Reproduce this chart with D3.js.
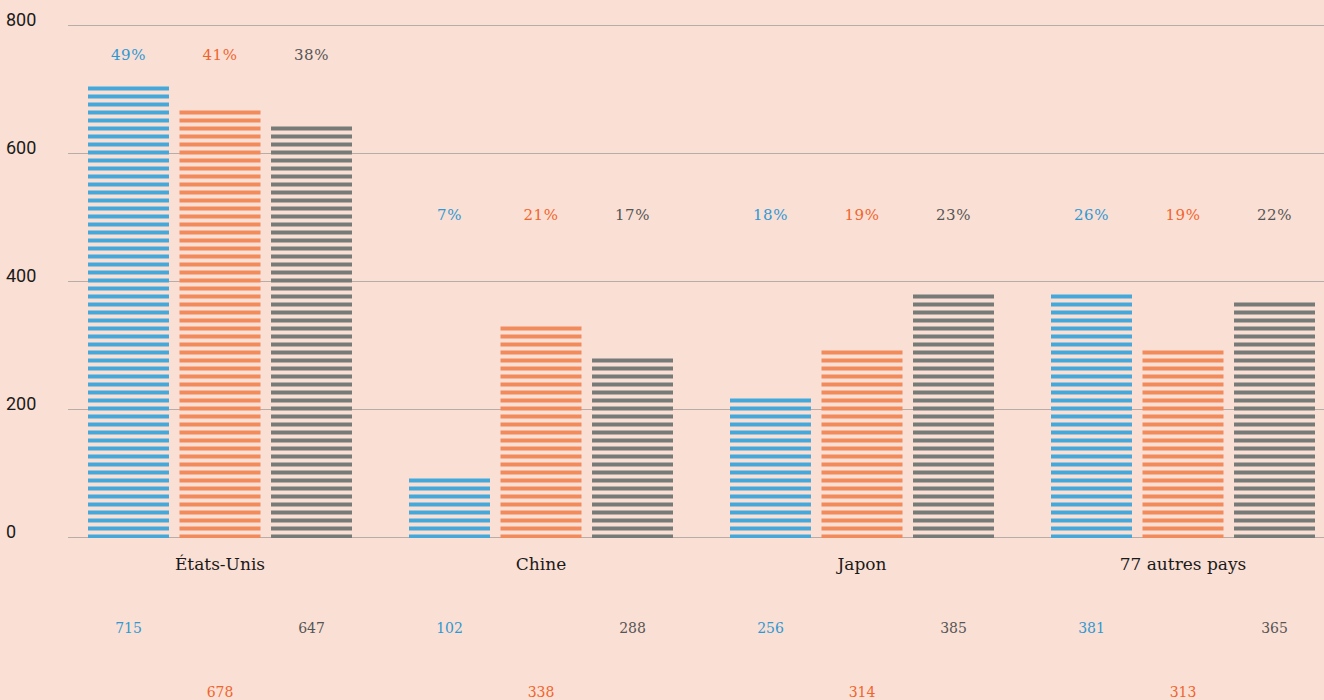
<!DOCTYPE html>
<html>
<head>
<meta charset="utf-8">
<script src="https://cdn.jsdelivr.net/npm/d3@7"></script>
<style>
  html, body { margin: 0; padding: 0; background: #fadfd4; }
  svg { display: block; }
  .grid line { stroke: #b9aca6; stroke-width: 1; shape-rendering: crispEdges; }
  .grid text { font-family: Roboto, "Liberation Sans", sans-serif; font-size: 18px; fill: #1a1a1a; }
  .cat-label { font-family: "DejaVu Serif", serif; font-size: 17px; fill: #1a1a1a; }
  .pct { font-family: "DejaVu Serif", serif; font-size: 15px; letter-spacing: 0.5px; }
  .val { font-family: "DejaVu Serif", serif; font-size: 14px; }
</style>
</head>
<body>
<div id="chart"></div>
<script>
var w = 1324
var h = 700

// data
var categories = ["États-Unis", "Chine", "Japon", "77 autres pays"]
var series = ["bleu", "orange", "gris"]

// printed figures
var valuesBleu = [715, 102, 256, 381]
var valuesOrange = [678, 338, 314, 313]
var valuesGris = [647, 288, 385, 365]

// bar heights as drawn (they don't quite follow the printed figures)
var barsBleu = [709, 96, 221, 384]
var barsOrange = [671, 334, 296, 296]
var barsGris = [646, 284, 384, 371]

var pctBleu = [49, 7, 18, 26]
var pctOrange = [41, 21, 19, 19]
var pctGris = [38, 17, 23, 22]

// height (in axis units) where the percentages sit
var pctLevel = [750, 500, 500, 500]

var yTicks = [0, 200, 400, 600, 800]

var barColor = {bleu: "#45a8da", orange: "#f28b5b", gris: "#767b77"}
var textColor = {bleu: "#2f98d3", orange: "#f0652d", gris: "#555555"}

var left_margin = 68
var top_y = 25.5
var base_y = 537.5

var rows = categories.map(function(c, i) {
  return {
    cat: c,
    index: i,
    level: pctLevel[i],
    bars: [
      {key: "bleu", bar: barsBleu[i], value: valuesBleu[i], pct: pctBleu[i]},
      {key: "orange", bar: barsOrange[i], value: valuesOrange[i], pct: pctOrange[i]},
      {key: "gris", bar: barsGris[i], value: valuesGris[i], pct: pctGris[i]}
    ]
  }
})

var y = d3.scaleLinear().domain([0, 800]).range([base_y, top_y])
var x0 = d3.scaleBand().domain(categories).range([59.5, 1343.5]).padding(0)
var x1 = d3.scaleBand().domain(series).range([28.5, 292.5]).paddingInner(0.115).paddingOuter(0)

var svg = d3.select("#chart")
  .append("svg")
  .attr("width", w)
  .attr("height", h)

// striped fills, anchored on the baseline
var defs = svg.append("defs")
series.forEach(function(s) {
  var p = defs.append("pattern")
    .attr("id", "stripes-" + s)
    .attr("patternUnits", "userSpaceOnUse")
    .attr("x", 0)
    .attr("y", Math.round(base_y) - 3.5)
    .attr("width", 8)
    .attr("height", 8)
  p.append("rect")
    .attr("x", 0)
    .attr("y", 0)
    .attr("width", 8)
    .attr("height", 4)
    .attr("fill", barColor[s])
})

// gridlines + tick labels
var grid = svg.append("g")
  .attr("class", "grid")
  .attr("transform", "translate(" + left_margin + ",0)")
  .call(d3.axisRight(y).tickValues(yTicks).tickSize(w - left_margin).offset(0).tickFormat(d3.format("d")))

grid.select(".domain").remove()
grid.selectAll("text")
  .attr("x", 6 - left_margin)
  .attr("dy", 0)
  .attr("text-anchor", "start")

var groups = svg.selectAll(".group")
  .data(rows)
  .enter().append("g")
  .attr("class", "group")
  .attr("transform", function(d) { return "translate(" + x0(d.cat) + ",0)" })

groups.selectAll("rect")
  .data(function(d) { return d.bars })
  .enter().append("rect")
  .attr("x", function(d) { return x1(d.key) })
  .attr("y", function(d) { return y(d.bar) })
  .attr("width", x1.bandwidth())
  .attr("height", function(d) { return base_y + 0.5 - y(d.bar) })
  .attr("fill", function(d) { return "url(#stripes-" + d.key + ")" })

// percentages above
groups.each(function(g) {
  d3.select(this).selectAll(".pct")
    .data(g.bars)
    .enter().append("text")
    .attr("class", "pct")
    .attr("x", function(d) { return x1(d.key) + x1.bandwidth() / 2 })
    .attr("y", y(g.level) + 2)
    .attr("text-anchor", "middle")
    .attr("fill", function(d) { return textColor[d.key] })
    .text(function(d) { return d.pct + "%" })
})

// category names
groups.append("text")
  .attr("class", "cat-label")
  .attr("x", x0.bandwidth() / 2)
  .attr("y", base_y + 32.5)
  .attr("text-anchor", "middle")
  .text(function(d) { return d.cat })

// figures below, orange one row lower
groups.selectAll(".val")
  .data(function(d) { return d.bars })
  .enter().append("text")
  .attr("class", "val")
  .attr("x", function(d) { return x1(d.key) + x1.bandwidth() / 2 })
  .attr("y", function(d) { return base_y + (d.key == "orange" ? 159.5 : 95.5) })
  .attr("text-anchor", "middle")
  .attr("fill", function(d) { return textColor[d.key] })
  .text(function(d) { return d.value })
</script>
</body>
</html>
